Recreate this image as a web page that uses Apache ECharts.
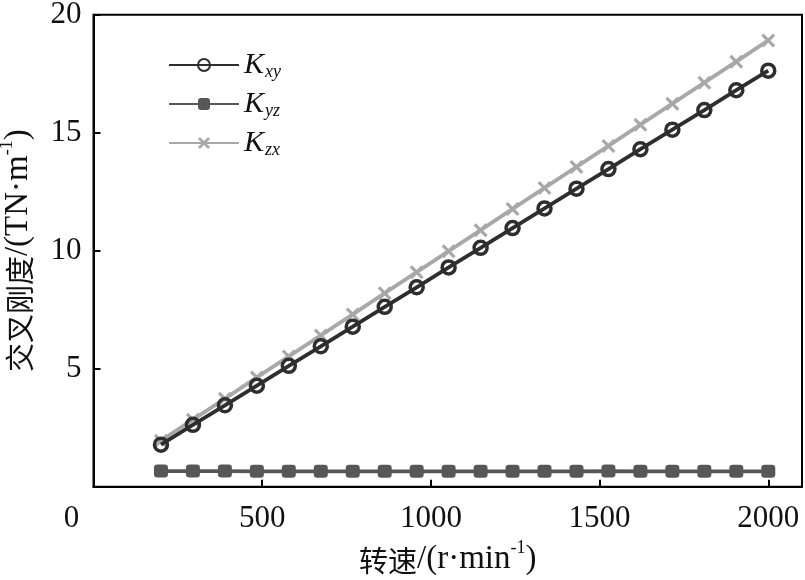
<!DOCTYPE html>
<html>
<head>
<meta charset="utf-8">
<script src="https://cdn.jsdelivr.net/npm/echarts@6/dist/echarts.min.js"></script>
<style>html,body{margin:0;padding:0;background:#fff}#c{width:805px;height:580px}</style>
</head>
<body>
<div id="c"></div>
<script>
// speeds (r/min)
const speeds = [200, 294.7, 389.5, 484.2, 578.9, 673.7, 768.4, 863.2, 957.9, 1052.6, 1147.4, 1242.1, 1336.8, 1431.6, 1526.3, 1621.1, 1715.8, 1810.5, 1905.3, 2000];
// cross stiffness values (TN/m)
const Kxy = [1.78, 2.62, 3.45, 4.28, 5.12, 5.95, 6.78, 7.62, 8.45, 9.29, 10.12, 10.96, 11.79, 12.63, 13.46, 14.30, 15.13, 15.96, 16.80, 17.63];
const Kyz = [0.66, 0.66, 0.66, 0.65, 0.65, 0.65, 0.65, 0.65, 0.65, 0.65, 0.65, 0.65, 0.65, 0.65, 0.66, 0.65, 0.65, 0.65, 0.65, 0.65];
const Kzx = [1.95, 2.84, 3.73, 4.63, 5.52, 6.41, 7.30, 8.20, 9.09, 9.98, 10.87, 11.77, 12.66, 13.55, 14.44, 15.34, 16.23, 17.12, 18.01, 18.91];
const seriesNames = ['Kxy', 'Kyz', 'Kzx'];
const subs = {Kxy: 'xy', Kyz: 'yz', Kzx: 'zx'};
const xTicks = [0, 500, 1000, 1500, 2000];
const yTicks = [0, 5, 10, 15, 20];

const serif = '"Liberation Serif", "Times New Roman", serif';
const cjk = '"Noto Sans CJK SC", sans-serif';
const xPath = 'path://M0,1.6 L1.6,0 L5,3.4 L8.4,0 L10,1.6 L6.6,5 L10,8.4 L8.4,10 L5,6.6 L1.6,10 L0,8.4 L3.4,5 Z';

const nameRich = {
  c: {fontFamily: cjk, fontSize: 29, color: '#111', lineHeight: 36, verticalAlign: 'bottom'},
  a: {fontFamily: serif, fontSize: 33, color: '#111', lineHeight: 36, verticalAlign: 'bottom'},
  p: {fontFamily: serif, fontSize: 18, color: '#111', lineHeight: 36, verticalAlign: 'top', padding: [0, 0, 10, 0]}
};

const pair = (xs, ys) => xs.map((x, i) => [x, ys[i]]);
const chart = echarts.init(document.getElementById('c'));
chart.setOption({
  backgroundColor: '#fff',
  animation: false,
  grid: {left: 93.5, right: 3, top: 14.7, bottom: 93.3, outerBoundsMode: 'none', containLabel: false,
         show: true, borderColor: '#000', borderWidth: 2, backgroundColor: 'transparent'},
  legend: {
    left: 163, top: 40, orient: 'vertical', itemWidth: 70, itemHeight: 15, itemGap: 3,
    formatter: n => '{k|K}{s|' + subs[n] + '}',
    textStyle: {
      rich: {
        k: {fontFamily: serif, fontStyle: 'italic', fontSize: 30, color: '#111', lineHeight: 32, verticalAlign: 'middle'},
        s: {fontFamily: serif, fontStyle: 'italic', fontSize: 18, color: '#111', lineHeight: 32, padding: [18, 0, 0, 1], verticalAlign: 'bottom'}
      }
    },
    data: seriesNames
  },
  xAxis: {
    type: 'value', min: xTicks[0], max: 2100, interval: 500,
    axisLine: {lineStyle: {color: '#000', width: 2}},
    axisTick: {inside: true, length: 7, lineStyle: {color: '#000', width: 2}},
    splitLine: {show: false},
    axisLabel: {
      margin: 17, color: '#111', fontFamily: serif, fontSize: 31,
      showMaxLabel: false,
      formatter: v => v === 0 ? '{z|0}' : String(v),
      rich: {z: {fontFamily: serif, fontSize: 31, color: '#111', padding: [0, 44, 0, 0]}}
    },
    name: '{c|转速}{a|/(r·min}{p|-1}{a|)}', nameLocation: 'middle', nameGap: 50,
    nameTextStyle: {rich: nameRich}
  },
  yAxis: {
    type: 'value', min: yTicks[0], max: yTicks[yTicks.length - 1], interval: 5,
    axisLine: {lineStyle: {color: '#000', width: 2}},
    axisTick: {inside: true, length: 7, lineStyle: {color: '#000', width: 2}},
    splitLine: {show: false},
    axisLabel: {margin: 12, color: '#111', fontFamily: serif, fontSize: 31, showMinLabel: false},
    name: '{c|交叉刚度}{a|/(TN·m}{p|-1}{a|)}', nameLocation: 'middle', nameGap: 59, nameRotate: 90,
    nameTextStyle: {rich: nameRich}
  },
  series: [
    {name: 'Kxy', type: 'line', data: pair(speeds, Kxy), symbol: 'circle', symbolSize: 13,
     lineStyle: {color: '#2e2e2e', width: 3.8},
     itemStyle: {color: 'rgba(255,255,255,0)', borderColor: '#2e2e2e', borderWidth: 3.5}, z: 4},
    {name: 'Kyz', type: 'line', data: pair(speeds, Kyz), symbol: 'roundRect', symbolSize: [14, 13],
     lineStyle: {color: '#575757', width: 3.8},
     itemStyle: {color: '#575757', borderColor: '#575757', borderWidth: 0}, z: 3},
    {name: 'Kzx', type: 'line', data: pair(speeds, Kzx), symbol: xPath, symbolSize: 14,
     lineStyle: {color: '#a8a8a8', width: 3.8},
     itemStyle: {color: '#a8a8a8'}, z: 2}
  ]
});
</script>
</body>
</html>
